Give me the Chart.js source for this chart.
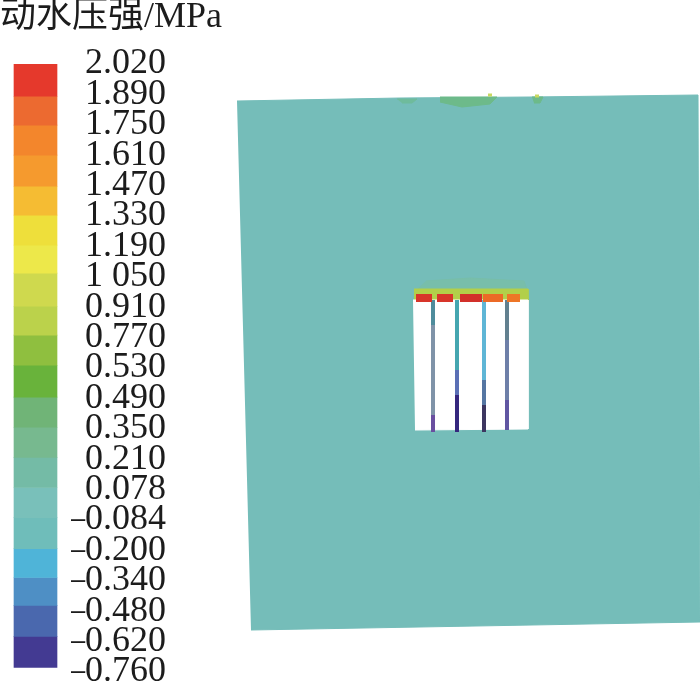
<!DOCTYPE html>
<html>
<head>
<meta charset="utf-8">
<title>动水压强</title>
<script src="https://cdn.jsdelivr.net/npm/chart.js@4"></script>
<style>
  html, body { margin: 0; padding: 0; background: #fff; }
  #wrap { position: relative; width: 700px; height: 682px; overflow: hidden; }
  canvas { position: absolute; top: 0; left: 0; filter: blur(0.5px); }
</style>
</head>
<body>
<div id="wrap">
  <canvas id="field" width="700" height="682"></canvas>
  <canvas id="bar" width="166" height="682"></canvas>
</div>
<script>
//legend
var titleText = '动水压强/MPa';
var tickLabels = ['2.020','1.890','1.750','1.610','1.470','1.330','1.190','1 050','0.910','0.770','0.530','0.490','0.350','0.210','0.078','–0.084','–0.200','–0.340','–0.480','–0.620','–0.760'];
var bandSteps = [1.06,0.95,0.99,1.02,0.95,0.99,0.92,1.09,0.95,0.99,1.05,0.99,0.99,0.99,0.99,1.02,0.95,0.92,1.02,1.02];
var bandColors = ['#E5392C','#EC6A30','#F3862C','#F59A2E','#F5BC33','#EEDF3B','#EDE84A','#CFD94E','#BBD24B','#8FBF3F','#69B33B','#70B477','#77B98F','#74BBA6','#79C0BA','#6FBDBA','#4FB4D8','#4E8FC5','#4A68AE','#433A92'];

//plate and window outlines
var plateX = [237,400,530,698,700,251];
var plateY = [101,98,97,95,622,630];
var holeX = [413,528,528,415];
var holeY = [300,300,429,430];

//pressure spots on the top edge and above the window
var topSpotX = [440,470,497,490,462,440];
var topSpotY = [97,97,97,104,107,102];
var sideSpotX = [532,543,540,534];
var sideSpotY = [97,97,103,103];
var leftSpotX = [397,417,412,402];
var leftSpotY = [99,99,103,103];
var yellowSpotX = [[488,492],[535,539]];
var yellowSpotY = [95,96];
var upperGlowX = [426,470,524,528,414];
var upperGlowY = [281,278,281,292,292];
var haloX = [414,528,528,414];
var haloY = [289,289,303,303];

//hot cells along the window head
var hotX = [[416,432],[437,453],[460,482],[483,503],[507,520]];
var hotY = [298,298,298,298,298];
var hotColors = ['#D8352A','#D8352A','#D2302A','#EC6A26','#EE7626'];

//ribs in the window
var ribX = [433,457,484,507];
var ribY = [
  [300,325,415,432],
  [300,370,395,432],
  [300,380,405,432],
  [300,340,400,430]
];
var ribColors = [
  ['#4F8C9C','#7F93A8','#6A4FA0'],
  ['#45A6B0','#5A6FB5','#35277E'],
  ['#5FB6D6','#5576A2','#3D3660'],
  ['#62808F','#6E7FA8','#6056A2']
];

function xy(xs, ys) {
  return xs.map(function(x, i) { return {x: x, y: ys[i]}; });
}

function shape(xs, ys, color) {
  return {data: xy(xs, ys), showLine: true, fill: 'shape', backgroundColor: color, borderColor: color, borderWidth: 1, pointRadius: 0, tension: 0};
}

function stroke(points, color, width) {
  return {data: points, showLine: true, borderWidth: width, borderColor: color, pointRadius: 0};
}

//back to front
var layers = [
  shape(plateX, plateY, '#75BDB9'),
  shape(leftSpotX, leftSpotY, '#6FBB9C'),
  shape(topSpotX, topSpotY, '#6DBA8A'),
  shape(sideSpotX, sideSpotY, '#6DBA8A'),
  shape(upperGlowX, upperGlowY, '#78BEAA'),
  shape(haloX, haloY, '#B2CF4A'),
  shape(holeX, holeY, '#FFFFFF')
];

yellowSpotX.forEach(function(span, i) {
  layers.push(stroke(span.map(function(x) { return {x: x, y: yellowSpotY[i]}; }), '#C9D860', 3));
});

ribX.forEach(function(x, i) {
  var rib = stroke(ribY[i].map(function(y) { return {x: x, y: y}; }), ribColors[i][0], 4);
  rib.segment = {
    borderColor: function(c) { return ribColors[i][c.p0DataIndex]; }
  };
  layers.push(rib);
});

hotX.forEach(function(span, i) {
  layers.push(stroke(span.map(function(x) { return {x: x, y: hotY[i]}; }), hotColors[i], 8));
});

//先頭のデータセットが最前面になるので逆順にする
layers.reverse();

new Chart(document.getElementById('field'), {
  type: 'scatter',
  data: {datasets: layers},
  options: {
    responsive: false,
    animation: false,
    plugins: {
      legend: {display: false},
      tooltip: {enabled: false},
      title: {
        display: true,
        text: titleText,
        align: 'start',
        color: '#1c1c1c',
        font: {family: '"Liberation Serif","Noto Sans CJK SC"', size: 36, weight: 'normal', lineHeight: 1},
        padding: {top: 0, bottom: 27}
      }
    },
    scales: {
      x: {type: 'linear', display: false, min: 0, max: 700},
      y: {type: 'linear', display: false, min: 63, max: 682, reverse: true}
    }
  }
});

new Chart(document.getElementById('bar'), {
  type: 'bar',
  data: {
    labels: [''],
    datasets: bandSteps.map(function(v, i) {
      return {data: [v], backgroundColor: bandColors[i], barThickness: 43};
    })
  },
  options: {
    responsive: false,
    animation: false,
    layout: {padding: {top: 64, bottom: 10}},
    plugins: {
      legend: {display: false},
      tooltip: {enabled: false}
    },
    scales: {
      x: {stacked: true, display: false},
      y: {
        stacked: true,
        position: 'right',
        min: 0,
        max: tickLabels.length - 1,
        reverse: true,
        grid: {display: false},
        border: {display: false},
        afterFit: function(scale) { scale.width = 95; },
        ticks: {
          stepSize: 1,
          autoSkip: false,
          padding: 0,
          crossAlign: 'far',
          color: '#1c1c1c',
          font: {family: '"Liberation Serif"', size: 36, lineHeight: 0.5},
          callback: function(value) { return tickLabels[value]; }
        }
      }
    }
  }
});
</script>
</body>
</html>
